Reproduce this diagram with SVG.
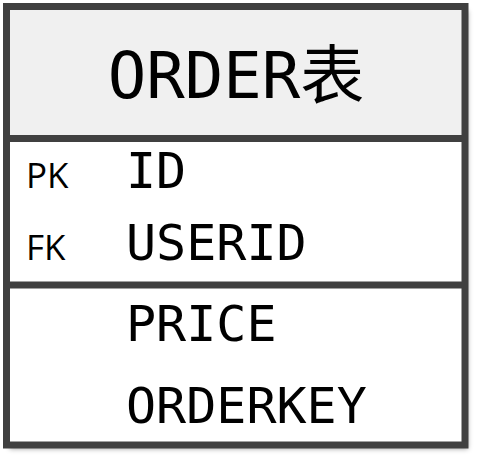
<svg xmlns="http://www.w3.org/2000/svg" width="481" height="475" viewBox="0 0 481 475">
  <style>
    .mono { font-family: "DejaVu Sans Mono", "Noto Sans CJK SC", monospace; fill: #000; }
    .key { font-family: "Open Sans", "Liberation Sans", sans-serif; font-size: 35px; fill: #000; }
    .line { stroke: #404040; stroke-width: 7; fill: none; }
  </style>
  <defs>
    <filter id="shadow" x="-10%" y="-10%" width="120%" height="120%">
      <feDropShadow dx="3" dy="4" stdDeviation="2.5" flood-color="#000" flood-opacity="0.35"/>
    </filter>
  </defs>
  <g id="order-table">
    <rect x="6.5" y="6.5" width="458.5" height="438.5" fill="#ffffff" filter="url(#shadow)"/>
    <rect x="6.5" y="6.5" width="458.5" height="132" fill="#f0f0f0"/>
    <rect class="line" x="6.5" y="6.5" width="458.5" height="438.5"/>
    <line class="line" x1="6.5" y1="138.5" x2="465" y2="138.5"/>
    <line class="line" x1="6.5" y1="285" x2="465" y2="285"/>
    <text class="mono" x="236" y="98" font-size="64" text-anchor="middle">ORDER表</text>
    <text class="key" x="26" y="188">PK</text>
    <text class="key" x="26" y="260">FK</text>
    <text class="mono" x="126" y="188" font-size="50">ID</text>
    <text class="mono" x="126" y="260" font-size="50">USERID</text>
    <text class="mono" x="126" y="341" font-size="50">PRICE</text>
    <text class="mono" x="126" y="423" font-size="50">ORDERKEY</text>
  </g>
  <g id="connectors"></g>
</svg>
